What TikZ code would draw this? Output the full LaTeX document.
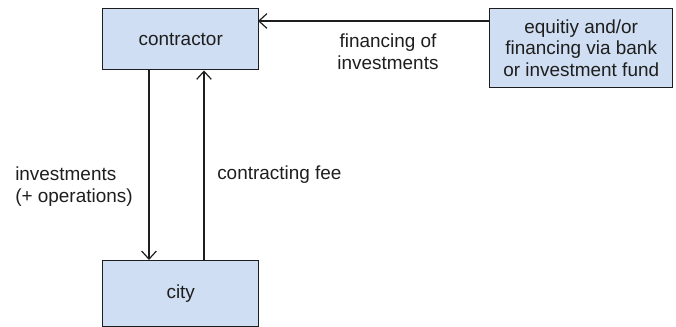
\documentclass[tikz,border=0pt]{standalone}
\usepackage{fontspec}
\setmainfont{Liberation Sans}
\usetikzlibrary{arrows.meta}
\definecolor{boxfill}{RGB}{207,222,242}
\definecolor{ink}{RGB}{30,30,30}
\tikzset{
  box/.style={draw=ink, line width=1.1pt, fill=boxfill, inner sep=0pt, anchor=north west},
  conn/.style={draw=ink, line width=0.9pt, -{Straight Barb[length=6pt,width=11pt]}},
  lbl/.style={font=\fontsize{14.2}{16.4}\selectfont, text=ink, inner sep=0pt}
}
\begin{document}
\begin{tikzpicture}[x=0.75pt,y=-0.75pt]
\useasboundingbox (0,0) rectangle (676,327);
\node[box, minimum width=156*0.75pt, minimum height=61*0.75pt] (contractor) at (102,8) {};
\node[lbl] at (contractor.center) {contractor};
\node[box, minimum width=183*0.75pt, minimum height=79*0.75pt] (equity) at (489,8) {};
\node[lbl, align=center] at (equity.center) {equitiy and/or\\financing via bank\\or investment fund};
\node[box, minimum width=156*0.75pt, minimum height=66*0.75pt] (city) at (102,260) {};
\node[lbl] at (city.center) {city};
\coordinate (eqL) at (489,21);
\coordinate (coR) at (258,21);
\draw[conn] (eqL) -- (coR);
\draw[conn] (contractor.south -| 149,0) -- (city.north -| 149,0);
\draw[conn] (city.north -| 204,0) -- (contractor.south -| 204,0);
\node[lbl, align=center] (fin) at (388,52) {financing of\\investments};
\node[lbl, align=left, anchor=west] (inv) at (15,187) {investments\\(+ operations)};
\node[lbl, anchor=west] (fee) at (217,175) {contracting fee};
\end{tikzpicture}
\end{document}
